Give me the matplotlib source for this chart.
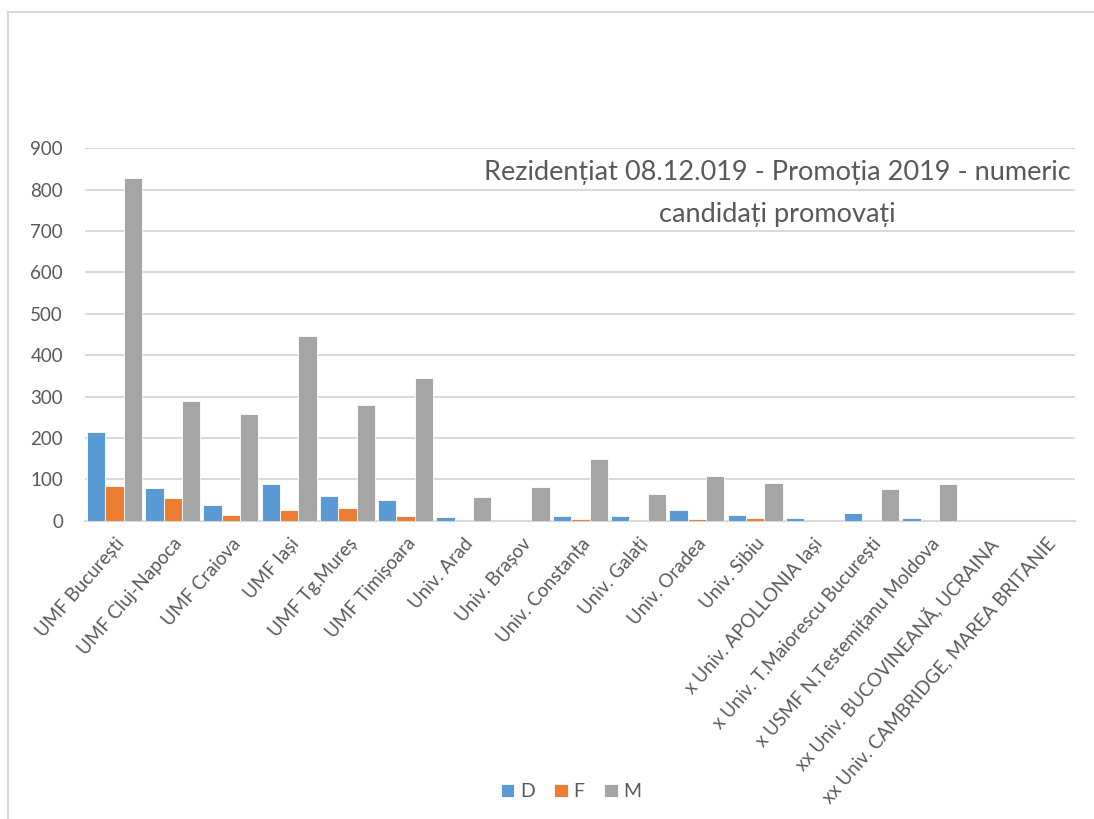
import matplotlib.pyplot as plt
import matplotlib.patches as mpatches
import numpy as np

plt.rcParams['font.family'] = ['Lato', 'DejaVu Sans']

categories = [
    'UMF București', 'UMF Cluj-Napoca', 'UMF Craiova', 'UMF Iași',
    'UMF Tg.Mureș', 'UMF Timișoara', 'Univ. Arad', 'Univ. Brașov',
    'Univ. Constanța', 'Univ. Galați', 'Univ. Oradea', 'Univ. Sibiu',
    'x Univ. APOLLONIA Iași', 'x Univ. T.Maiorescu București',
    'x USMF N.Testemițanu Moldova', 'xx Univ. BUCOVINEANĂ, UCRAINA',
    'xx Univ. CAMBRIDGE, MAREA BRITANIE',
]
d_vals = [214, 79, 38, 88, 59, 50, 9, 0, 12, 12, 26, 15, 6, 20, 6, 0, 0]
f_vals = [85, 56, 15, 27, 30, 11, 0, 0, 4, 0, 4, 7, 0, 0, 0, 0, 0]
m_vals = [828, 290, 258, 447, 281, 344, 58, 82, 150, 65, 108, 91, 0, 76, 88, 0, 0]

title_lines = ['Rezidențiat 08.12.019 - Promoția 2019 - numeric', 'candidați promovați']

series = [('D', d_vals, '#5B9BD5'), ('F', f_vals, '#ED7D31'), ('M', m_vals, '#A5A5A5')]
text_color = '#595959'

fig = plt.figure(figsize=(10.94, 8.19), dpi=100)
ax = fig.add_axes([0.078, 0.364, 0.905, 0.455])

# chart frame
fig.patches.append(mpatches.Rectangle((8 / 1094, -0.1), 1.2, 1.1 - 12 / 819,
                                      transform=fig.transFigure, fill=False,
                                      edgecolor='#D9D9D9', linewidth=1.5))

x = np.arange(len(categories))
w = 0.315
for i, (name, vals, col) in enumerate(series):
    ax.bar(x + (i - 1) * w, vals, w, color=col, edgecolor='white', linewidth=0.6,
           label=name, zorder=3)

ax.set_xlim(-0.5, len(categories) - 0.5)
ax.set_ylim(0, 900)
ax.set_yticks(range(0, 901, 100))
ax.yaxis.grid(True, color='#D9D9D9', linewidth=1.5, zorder=0)
ax.set_axisbelow(True)
for s in ['top', 'right', 'left']:
    ax.spines[s].set_visible(False)
ax.spines['bottom'].set_color('#D9D9D9')
ax.spines['bottom'].set_linewidth(1.5)
ax.tick_params(axis='both', length=0, colors=text_color, labelsize=13.5)
ax.tick_params(axis='y', pad=16)
ax.tick_params(axis='x', pad=10)
ax.set_xticks(x)
ax.set_xticklabels(categories, rotation=49, ha='right', rotation_mode='anchor',
                   color=text_color, fontsize=13.5)

# title sits inside the plot area, each line masking the gridlines behind it
for line, yfrac in zip(title_lines, [0.936, 0.822]):
    ax.text(0.699, yfrac, line, transform=ax.transAxes, ha='center', va='center',
            fontsize=19.5, color=text_color,
            bbox=dict(facecolor='white', edgecolor='none', pad=1), zorder=5)

fig.legend(loc='center', bbox_to_anchor=(0.522, 0.033), ncol=3, frameon=False,
           fontsize=14, handlelength=0.7, handleheight=0.7, handletextpad=0.3,
           columnspacing=1.0, labelcolor=text_color)

fig.savefig('out.png', dpi=100)
